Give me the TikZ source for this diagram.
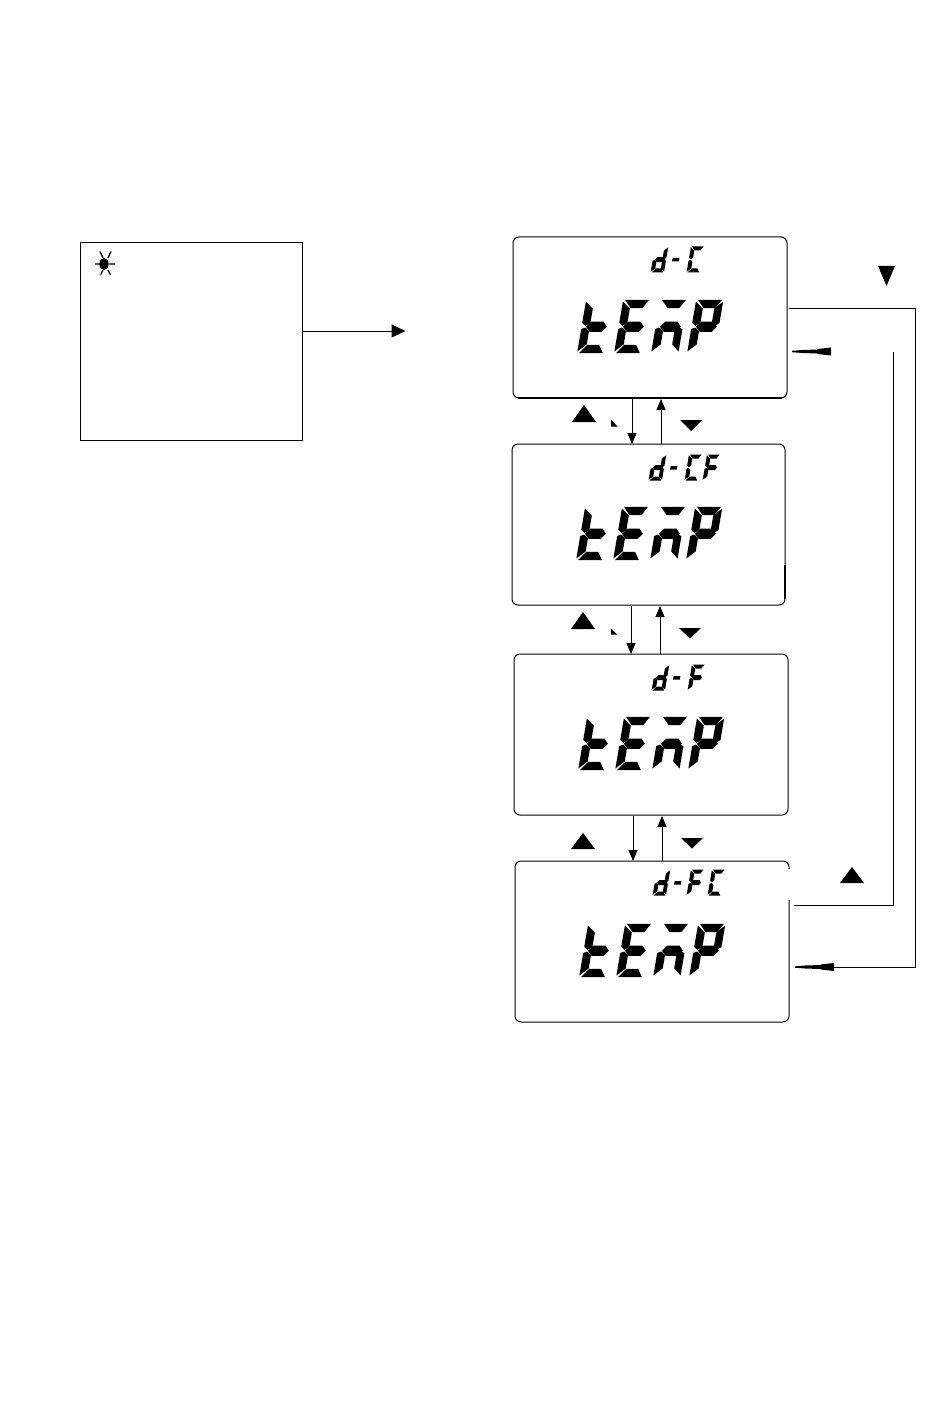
\documentclass[tikz,border=0pt]{standalone}
\usetikzlibrary{arrows.meta,calc}
% seven-segment shapes, local units: digit 25 wide, 50 high, y up
\newcommand\lcdsega{\fill (1.2,51)--(24.5,51)--(22,47)--(19.5,43)--(8,43)--cycle;}
\newcommand\lcdsegb{\fill (26,49.5)--(26,28.5)--(22.3,25.6)--(18.5,28.5)--(18.5,42.5)--cycle;}
\newcommand\lcdsegc{\fill (26,22.5)--(26,.5)--(18.5,7.5)--(18.5,20.5)--(22.3,24)--cycle;}
\newcommand\lcdsegd{\fill (1.2,-1)--(24.5,-1)--(22,3)--(19.5,7)--(8,7)--cycle;}
\newcommand\lcdsege{\fill (-.7,.5)--(-.7,22.5)--(3,24)--(7.3,20.5)--(7.3,7.5)--cycle;}
\newcommand\lcdsegf{\fill (-.7,49.5)--(-.7,28.5)--(3,25.6)--(7.3,28.5)--(7.3,42.5)--cycle;}
\newcommand\lcdsegg{\fill (3.6,24.8)--(8,29.8)--(20,29.8)--(24,24.8)--(20,19.8)--(8,19.8)--cycle;}
\newcommand\lcdsegh{\fill (5.5,28)--(19,28)--(19,21)--(5.5,21)--cycle;}
% #1 x, #2 baseline, #3 scale, #4 list of segments
\newcommand\lcdglyph[4]{\begin{scope}[shift={(#1,#2)},x=#3pt,y=#3pt,xslant=.17]
  \foreach \lcds in {#4}{\csname lcdseg\lcds\endcsname}\end{scope}}
\newcommand\lcdtemp{%
  \lcdglyph{65}{115}{1.02}{f,e,g,d}
  \lcdglyph{102}{115}{1.02}{a,f,g,e,d}
  \lcdglyph{139}{115}{1.02}{a,g,e,c}
  \lcdglyph{175}{115}{1.02}{a,b,f,g,e}}
\newcommand\lcdd[2]{\lcdglyph{#1}{#2}{.5}{b,c,d,e,g}\lcdglyph{#1+16.5}{#2}{.5}{h}}
\newcommand\lcdC[2]{\lcdglyph{#1}{#2}{.5}{a,f,e,d}}
\newcommand\lcdF[2]{\lcdglyph{#1}{#2}{.5}{a,f,g,e}}
% #1 centre x, #2 flat-edge y, #3 width, #4 height
\newcommand\tridn[4]{\fill (#1-#3/2,#2) -- (#1+#3/2,#2) -- (#1,#2+#4) -- cycle;}
\newcommand\triup[4]{\fill (#1-#3/2,#2) -- (#1+#3/2,#2) -- (#1,#2-#4) -- cycle;}
\newcommand\longhead[1]{\fill ($(#1)+(0,-.7)$) -- ++(10,-.8) -- ++(15,-.5) -- ++(2,-.7) -- ++(12,-1.3)
  -- ++(0,8) -- ++(-12,-1.3) -- ++(-2,-.7) -- ++(-15,-.5) -- ++(-10,-.8) -- cycle;}
\tikzset{
  screen/.style={draw,line width=1pt,rounded corners=6pt,minimum width=#1,minimum height=161pt,anchor=north west,inner sep=0pt,outer sep=0pt},
  plainbox/.style={draw,line width=1pt,anchor=north west,inner sep=0pt,outer sep=0pt,minimum width=222pt,minimum height=197pt},
  flow/.style={line width=.9pt,-{Triangle[length=11pt,width=9pt]}},
  wire/.style={line width=.9pt},
  hidden/.style={text opacity=0,inner sep=0pt,anchor=center},
}
\begin{document}
\begin{tikzpicture}[x=1pt,y=-1pt]
\useasboundingbox (0,0) rectangle (950,1420);
\fill[white] (0,0) rectangle (950,1420);
\node[plainbox] (left) at (80.5,243) {};
\fill (104,264) ellipse (4.6 and 6);
\draw[line width=1.3pt] (95,264)--(100,264) (109,264)--(115,264)
  (100,251.5)--(103,258) (111,251.5)--(108,258) (100.5,275)--(103,270) (110.5,275)--(108,270);
\coordinate (goal) at (405.5,331);
\draw[line width=1pt,-{Triangle[length=14pt,width=13pt]}] (left.east |- goal) -- (goal);
\node[screen=274pt] (b1) at (513,237) {};
\node[screen=273pt] (b2) at (512,444) {};
\node[screen=274pt] (b3) at (514,654) {};
\node[screen=274pt] (b4) at (515,861) {};
\draw[line width=2pt] ([xshift=5pt]b1.south west) -- ([xshift=-5pt]b1.south east);
\draw[line width=1.4pt] ([yshift=6pt]b2.south east) -- ([yshift=40pt]b2.south east);
\draw[white,line width=2.5pt] ([shift={(0,8)}]b4.north east) -- ([shift={(0,39)}]b4.north east);
\begin{scope}[shift={(b1.north west)}]
  \lcdtemp \lcdd{138}{35} \lcdC{174}{35}
  \node[hidden] (t1) at (138,90) {\fontsize{52}{52}\selectfont tEmP};
  \node[hidden] (s1) at (165,23) {\fontsize{24}{24}\selectfont d-C};
\end{scope}
\begin{scope}[shift={(b2.north west)}]
  \lcdtemp \lcdd{137}{36} \lcdC{173}{36} \lcdF{191}{36}
  \node[hidden] (t2) at (138,90) {\fontsize{52}{52}\selectfont tEmP};
  \node[hidden] (s2) at (172,24) {\fontsize{24}{24}\selectfont d-CF};
\end{scope}
\begin{scope}[shift={(b3.north west)}]
  \lcdtemp \lcdd{138}{36} \lcdF{174}{36}
  \node[hidden] (t3) at (138,90) {\fontsize{52}{52}\selectfont tEmP};
  \node[hidden] (s3) at (165,24) {\fontsize{24}{24}\selectfont d-F};
\end{scope}
\begin{scope}[shift={(b4.north west)}]
  \lcdtemp \lcdd{138}{34} \lcdF{172}{34} \lcdC{193}{34}
  \node[hidden] (t4) at (138,90) {\fontsize{52}{52}\selectfont tEmP};
  \node[hidden] (s4) at (172,22) {\fontsize{24}{24}\selectfont d-FC};
\end{scope}
% vertical flows
\coordinate (d1) at (632,0); \coordinate (u1) at (661,0);
\coordinate (d2) at (631,0); \coordinate (u2) at (660,0);
\coordinate (d3) at (633,0); \coordinate (u3) at (662,0);
\draw[flow] ([yshift=-1pt]d1 |- b1.south) -- (d1 |- b2.north);
\draw[flow] (u1 |- b2.north) -- ([yshift=-1pt]u1 |- b1.south);
\draw[flow] ([yshift=-1pt]d2 |- b2.south) -- (d2 |- b3.north);
\draw[flow] (u2 |- b3.north) -- ([yshift=-1pt]u2 |- b2.south);
\draw[flow] ([yshift=-1pt]d3 |- b3.south) -- (d3 |- b4.north);
\draw[flow] (u3 |- b4.north) -- ([yshift=-1pt]u3 |- b3.south);
% key symbols
\triup{584}{422}{24}{17} \tridn{691}{420}{22}{11}
\triup{583}{629}{24}{17} \tridn{690}{628}{22}{10.5}
\triup{583}{849}{24}{16} \tridn{692}{838}{22}{10.5}
\tridn{886.5}{266}{17}{20}
\triup{852}{883}{24}{16}
\fill (611,419.5) -- (611,426.5) -- (617.5,426.5) -- cycle;
\fill (611,628.5) -- (611,634.5) -- (617,634.5) -- cycle;
% outer loop
\coordinate (r1) at (915,308); \coordinate (r2) at (915,967);
\coordinate (hd1) at (795,967);
\draw[wire] ([xshift=2pt]b1.east |- r1) -- (r1) -- (r2) -- ($(hd1)+(39,0)$);
\longhead{hd1}
\coordinate (s2) at (893.5,905); \coordinate (s3) at (893.5,351.5);
\coordinate (hd2) at (792,351.5);
\draw[line width=1.6pt] (s3) -- (s2);
\draw[line width=1pt] ([xshift=5pt]b4.east |- s2) -- (s2);
\longhead{hd2}
\end{tikzpicture}
\end{document}
